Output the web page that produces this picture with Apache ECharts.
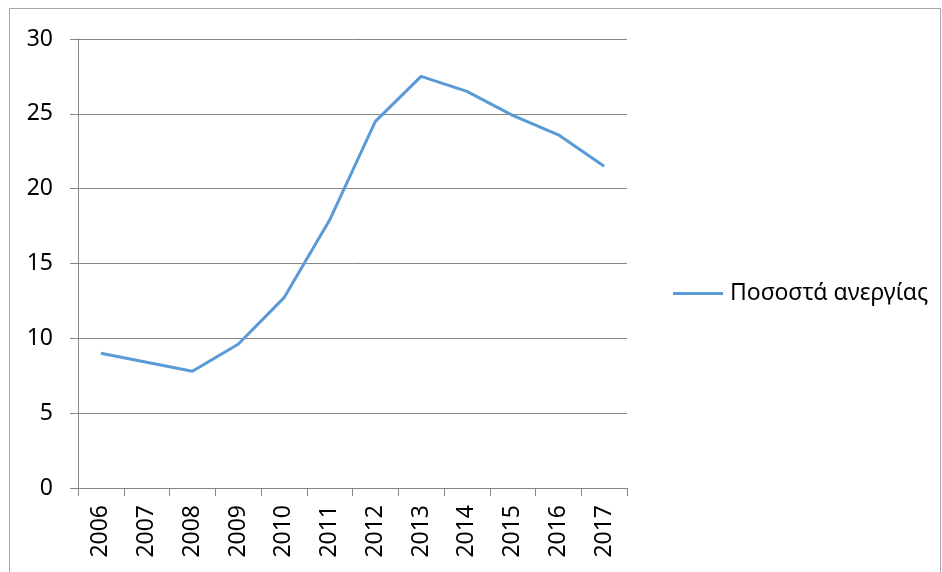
<!DOCTYPE html>
<html>
<head>
<meta charset="utf-8">
<script src="https://cdn.jsdelivr.net/npm/echarts@6/dist/echarts.min.js"></script>
<style>
  html, body { margin: 0; padding: 0; background: #fff; }
  #chart { width: 942px; height: 572px; }
</style>
</head>
<body>
<div id="chart"></div>
<script>
// Unemployment rate by year
const years = ['2006', '2007', '2008', '2009', '2010', '2011', '2012', '2013', '2014', '2015', '2016', '2017'];
const unemployment = [9.0, 8.4, 7.8, 9.6, 12.7, 17.9, 24.5, 27.5, 26.5, 24.9, 23.6, 21.5];
const seriesName = 'Ποσοστά ανεργίας';

const axisGray = '#868686';
const lineBlue = '#5B9BD5';
const font = "'Noto Sans', 'DejaVu Sans', sans-serif";

const chart = echarts.init(document.getElementById('chart'), null, { renderer: 'canvas' });
chart.setOption({
  animation: false,
  backgroundColor: '#ffffff',
  graphic: [{
    type: 'rect',
    shape: { x: 9.5, y: 8.5, width: 931, height: 600 },
    style: { fill: 'none', stroke: '#a6a6a6', lineWidth: 1 },
    silent: true
  }],
  legend: {
    data: [{ name: seriesName, icon: 'rect' }],
    left: 668,
    top: 277,
    itemWidth: 50,
    itemHeight: 3,
    itemGap: 6,
    itemStyle: { color: lineBlue, borderWidth: 0 },
    textStyle: { fontFamily: font, fontSize: 23, color: '#000', padding: [0, 0, 0, 2] }
  },
  grid: { left: 78, right: 315, top: 39, bottom: 84, containLabel: false },
  xAxis: {
    type: 'category',
    data: years,
    boundaryGap: true,
    axisLine: { lineStyle: { color: axisGray, width: 1 } },
    axisTick: { show: true, length: 8, alignWithLabel: false, lineStyle: { color: axisGray } },
    axisLabel: { rotate: 90, margin: 17, fontFamily: font, fontSize: 23, color: '#000' },
    splitLine: { show: false }
  },
  yAxis: {
    type: 'value',
    min: 0,
    max: 30,
    interval: 5,
    axisLine: { show: true, lineStyle: { color: axisGray, width: 1 } },
    axisTick: { show: true, length: 8, lineStyle: { color: axisGray } },
    axisLabel: { margin: 25, fontFamily: font, fontSize: 23, color: '#000' },
    splitLine: { show: true, lineStyle: { color: axisGray, width: 1 } }
  },
  series: [{
    name: seriesName,
    type: 'line',
    data: unemployment,
    symbol: 'none',
    lineStyle: { color: lineBlue, width: 3, join: 'round' },
    itemStyle: { color: lineBlue }
  }]
});
</script>
</body>
</html>
